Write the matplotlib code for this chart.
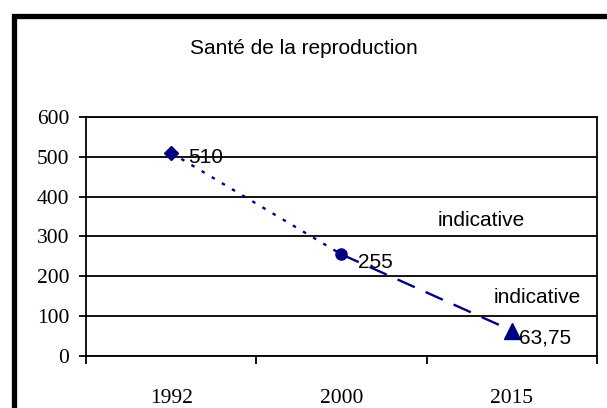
import numpy as np
import matplotlib
matplotlib.use('Agg')
import matplotlib.pyplot as plt
from matplotlib.patches import Rectangle

annees = ['1992', '2000', '2015']
valeurs = [510, 255, 63.75]
etiquettes = ['510', '255', '63,75']
marqueurs = ['D', 'o', '^']
tailles = [7.5, 8, 11]
yticks = [0, 100, 200, 300, 400, 500, 600]
titre = 'Santé de la reproduction'
notes = [('indicative', 1.82, 341), ('indicative', 2.15, 148)]

bleu = '#000080'
sans = 'Liberation Sans'
serif = 'Liberation Serif'

fig = plt.figure(figsize=(6.07, 4.08), dpi=100)
ax = fig.add_axes([0.1417, 0.1275, 0.8418, 0.5857])

x = np.arange(len(annees))

# segment pointillé puis segment tireté
ax.plot(x[:2], valeurs[:2], color=bleu, lw=1.7, linestyle=(0, (1.5, 3.5)))
ax.plot(x[1:], valeurs[1:], color=bleu, lw=1.7, linestyle=(0, (8, 5)))
for xi, v, m, s in zip(x, valeurs, marqueurs, tailles):
    ax.plot(xi, v, marker=m, markersize=s, color=bleu, zorder=5)

decalages = [(17, -5), (17, -8), (7, -7)]
for xi, v, t, d in zip(x, valeurs, etiquettes, decalages):
    ax.annotate(t, (xi, v), xytext=d, textcoords='offset pixels',
                ha='left', va='center', fontsize=15, family=sans, zorder=6)

for t, nx, ny in notes:
    ax.text(nx, ny, t, ha='center', va='center', fontsize=15, family=sans)

ax.set_xlim(-0.5, 2.5)
ax.set_ylim(0, 600)
ax.set_yticks(yticks)
ax.yaxis.grid(True, color='black', lw=1.3)
ax.set_axisbelow(True)

ax.set_xticks([-0.5, 0.5, 1.5, 2.5])
ax.set_xticklabels([])
ax.set_xticks(x, minor=True)
ax.set_xticklabels(annees, minor=True)
ax.tick_params(axis='x', which='major', length=6, width=1.3, direction='out')
ax.tick_params(axis='x', which='minor', length=0, pad=24, labelsize=15.5)
ax.tick_params(axis='y', length=5, width=1.3, direction='out', pad=7, labelsize=15.5)
for lab in ax.get_xticklabels(minor=True) + ax.get_yticklabels():
    lab.set_family(serif)

for sp in ax.spines.values():
    sp.set_color('black')
    sp.set_linewidth(1.3)

fig.text(0.5, 0.88, titre, ha='center', va='center', fontsize=15, family=sans)

# cadre extérieur
fig.patches.append(Rectangle((14 / 607, -0.2), 1.5, 0.961 + 0.2,
                             transform=fig.transFigure, fill=False,
                             edgecolor='black', lw=3.8))

fig.savefig('out.png', dpi=100)
